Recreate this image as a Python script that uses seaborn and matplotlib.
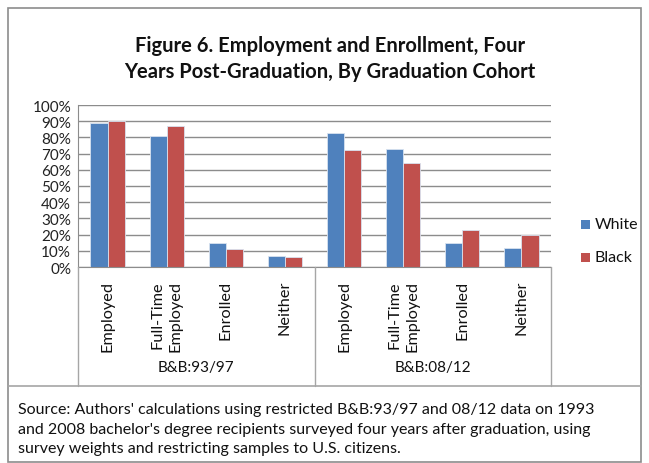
import matplotlib
matplotlib.use("Agg")
import matplotlib.pyplot as plt
import seaborn as sns
import pandas as pd
from matplotlib.lines import Line2D
from matplotlib.patches import Rectangle

cohorts = ["B&B:93/97", "B&B:08/12"]
outcomes = ["Employed", "Full-Time\nEmployed", "Enrolled", "Neither"]
races = ["White", "Black"]
white_9397 = [0.89, 0.81, 0.15, 0.07]
black_9397 = [0.90, 0.87, 0.11, 0.06]
white_0812 = [0.83, 0.73, 0.15, 0.12]
black_0812 = [0.72, 0.64, 0.23, 0.20]
yticks = [i / 10 for i in range(11)]
title = "Figure 6. Employment and Enrollment, Four\nYears Post-Graduation, By Graduation Cohort"
source = ("Source: Authors' calculations using restricted B&B:93/97 and 08/12 data on 1993\n"
          "and 2008 bachelor's degree recipients surveyed four years after graduation, using\n"
          "survey weights and restricting samples to U.S. citizens.")

rows = []
series = {("B&B:93/97", "White"): white_9397, ("B&B:93/97", "Black"): black_9397,
          ("B&B:08/12", "White"): white_0812, ("B&B:08/12", "Black"): black_0812}
keys = []
for c in cohorts:
    for o in outcomes:
        keys.append(c + "|" + o)
for c in cohorts:
    for r in races:
        for o, v in zip(outcomes, series[(c, r)]):
            rows.append({"key": c + "|" + o, "race": r, "value": v})
df = pd.DataFrame(rows)

sns.set_style("white")
plt.rcParams["font.family"] = ["Lato", "DejaVu Sans"]

W, H = 649, 464
fig = plt.figure(figsize=(W / 100, H / 100), dpi=100)
def fx(px): return px / W
def fy(py): return 1 - py / H

ax_l, ax_r, ax_t, ax_b = 78, 551, 106, 268
ax = fig.add_axes([fx(ax_l), fy(ax_b), fx(ax_r - ax_l), (ax_b - ax_t) / H])
palette = {"White": "#4F81BD", "Black": "#C0504D"}
sns.barplot(data=df, x="key", y="value", hue="race", order=keys, hue_order=races,
            palette=palette, width=0.58, ax=ax, saturation=1, legend=False,
            edgecolor="#d8e2f0", linewidth=0.6)
ax.set_ylim(0, 1)
ax.set_xlim(-0.5, 7.5)
ax.set_yticks(yticks)
ax.set_yticklabels([f"{int(round(t*100))}%" for t in yticks], fontsize=11, color="#222222")
ax.set_xticks([])
ax.set_xlabel("")
ax.set_ylabel("")
ax.yaxis.grid(True, color="#8c8c8c", linewidth=1)
ax.set_axisbelow(True)
for s in ["top", "right"]:
    ax.spines[s].set_visible(False)
ax.spines["left"].set_color("#8c8c8c")
ax.spines["bottom"].set_color("#8c8c8c")
ax.tick_params(axis="y", length=0, pad=5)

# category labels
cat_w = (ax_r - ax_l) / 8
for i, k in enumerate(keys):
    o = k.split("|")[1]
    cx = ax_l + cat_w * (i + 0.5)
    fig.text(fx(cx), fy(281), o, rotation=90, ha="center", va="top",
             multialignment="right", fontsize=11.7, color="#111111", linespacing=1.35)
# group labels and separators
for j, c in enumerate(cohorts):
    cx = ax_l + cat_w * (4 * j + 2)
    fig.text(fx(cx), fy(368), c, ha="center", va="center", fontsize=11, color="#111111")
for px in [ax_l, ax_l + 4 * cat_w, ax_r]:
    fig.add_artist(Line2D([fx(px), fx(px)], [fy(ax_b), fy(387)], color="#a6a6a6", lw=1,
                          transform=fig.transFigure))
fig.add_artist(Line2D([fx(8), fx(641)], [fy(387), fy(387)], color="#a6a6a6", lw=1.2,
                      transform=fig.transFigure))
# outer border
fig.add_artist(Rectangle((fx(8), fy(463)), fx(633), (463 - 9) / H, fill=False,
                         edgecolor="#8c8c8c", lw=1.2, transform=fig.transFigure))

# legend
for r, py in zip(races, [225, 258]):
    fig.add_artist(Rectangle((fx(581), fy(py + 4.5)), fx(9), 9 / H, facecolor=palette[r],
                             edgecolor="none", transform=fig.transFigure))
    fig.text(fx(595), fy(py), r, ha="left", va="center", fontsize=11.5, color="#111111")

fig.text(fx(330), fy(59), title, ha="center", va="center", fontsize=14.5, fontweight="bold",
         linespacing=1.4, color="#111111")
fig.text(fx(18), fy(430), source, ha="left", va="center", fontsize=11.5, linespacing=1.5,
         color="#111111")

fig.savefig("out.png", dpi=100)
